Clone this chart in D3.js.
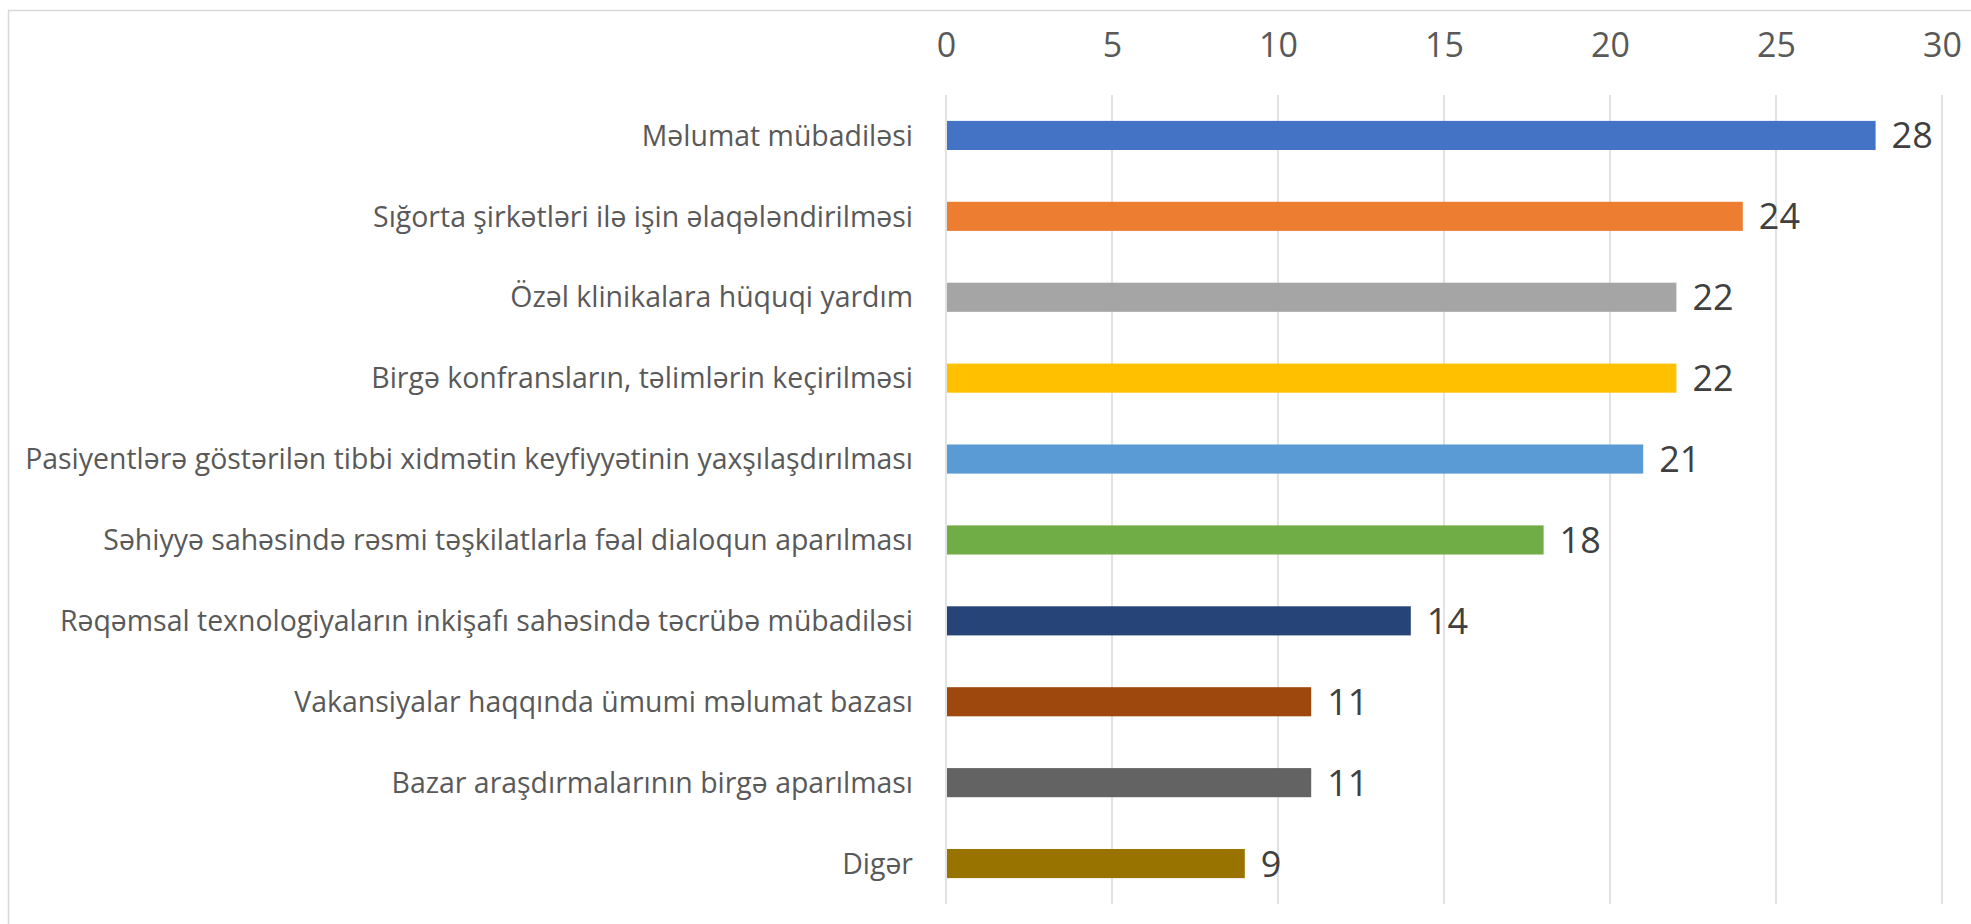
<!DOCTYPE html>
<html>
<head>
<meta charset="utf-8">
<script src="https://cdn.jsdelivr.net/npm/d3@7"></script>
<style>
  html, body { margin: 0; padding: 0; background: #ffffff; }
  svg { display: block; }
</style>
</head>
<body>
<svg id="chart" width="1971" height="924"></svg>
<script>
const categories = [
  "Məlumat mübadiləsi",
  "Sığorta şirkətləri ilə işin əlaqələndirilməsi",
  "Özəl klinikalara hüquqi yardım",
  "Birgə konfransların, təlimlərin keçirilməsi",
  "Pasiyentlərə göstərilən tibbi xidmətin keyfiyyətinin yaxşılaşdırılması",
  "Səhiyyə sahəsində rəsmi təşkilatlarla fəal dialoqun aparılması",
  "Rəqəmsal texnologiyaların inkişafı sahəsində təcrübə mübadiləsi",
  "Vakansiyalar haqqında ümumi məlumat bazası",
  "Bazar araşdırmalarının birgə aparılması",
  "Digər"
];
const values = [28, 24, 22, 22, 21, 18, 14, 11, 11, 9];
const colors = ["#4472C4", "#ED7D31", "#A5A5A5", "#FFC000", "#5B9BD5",
                "#70AD47", "#264478", "#9E480E", "#636363", "#997300"];
const tickValues = [0, 5, 10, 15, 20, 25, 30];

const svg = d3.select("#chart");
const FONT = "'Open Sans', 'Noto Sans', sans-serif";

// chart area border
svg.append("rect")
  .attr("x", 8.5).attr("y", 10.5)
  .attr("width", 2000).attr("height", 1000)
  .attr("fill", "#ffffff")
  .attr("stroke", "#d9d9d9").attr("stroke-width", 1.5);

const x = d3.scaleLinear().domain([0, 30]).range([946, 1942]);
const y = d3.scaleBand().domain(categories).range([95, 904])
  .paddingInner(0.64).paddingOuter(0.32);

// gridlines
svg.append("g").selectAll("line").data(tickValues).join("line")
  .attr("x1", d => x(d)).attr("x2", d => x(d))
  .attr("y1", 95).attr("y2", 904)
  .attr("stroke", "#d9d9d9").attr("stroke-width", 1.5);

// top axis labels
const axis = d3.axisTop(x).tickValues(tickValues).tickSize(0).tickPadding(0);
const gAxis = svg.append("g").attr("transform", "translate(0,57)").call(axis);
gAxis.select(".domain").remove();
gAxis.selectAll("text")
  .attr("y", 0).attr("dy", 0)
  .attr("fill", "#595959")
  .style("font-family", FONT).style("font-size", "34px");

// bars
svg.append("g").selectAll("rect").data(values).join("rect")
  .attr("x", x(0) + 1)
  .attr("y", (d, i) => y(categories[i]))
  .attr("width", d => x(d) - x(0) - 1)
  .attr("height", y.bandwidth())
  .attr("fill", (d, i) => colors[i]);

// category labels
const catG = svg.append("g");
const catText = catG.selectAll("text").data(categories).join("text")
  .attr("x", 913)
  .attr("y", d => y(d) + y.bandwidth() / 2)
  .attr("text-anchor", "end")
  .attr("fill", "#595959")
  .style("font-family", FONT)
  .style("font-size", "29px")
  .text(d => d);
// fit the longest label to the available width
let maxW = 0;
catText.each(function () { maxW = Math.max(maxW, this.getComputedTextLength()); });
let fs = Math.min(29.5, 29 * 888 / maxW);
catText.style("font-size", fs + "px")
  .attr("dy", (0.357 * fs) + "px");

// value labels
svg.append("g").selectAll("text").data(values).join("text")
  .attr("x", d => x(d) + 16)
  .attr("y", (d, i) => y(categories[i]) + y.bandwidth() / 2 + 13)
  .attr("fill", "#404040")
  .style("font-family", FONT)
  .style("font-size", "36px")
  .text(d => d);
</script>
</body>
</html>
